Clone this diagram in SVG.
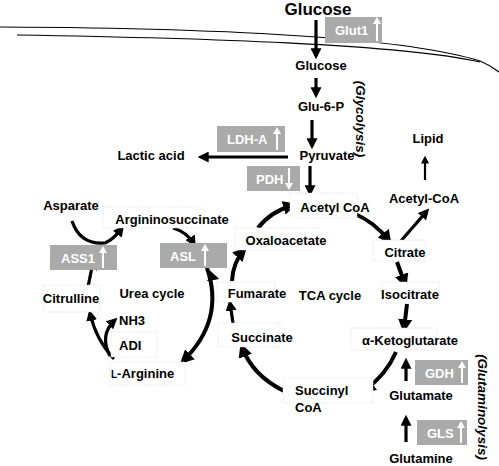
<svg xmlns="http://www.w3.org/2000/svg" width="499" height="466" viewBox="0 0 499 466">
<defs>
<marker id="ah" viewBox="0 0 10 10" refX="7" refY="5" markerWidth="11" markerHeight="11" markerUnits="userSpaceOnUse" orient="auto"><path d="M0,0 L10,5 L0,10 z" fill="#000"/></marker>
<marker id="ahs" viewBox="0 0 10 10" refX="7" refY="5" markerWidth="8" markerHeight="8" markerUnits="userSpaceOnUse" orient="auto"><path d="M0,0 L10,5 L0,10 z" fill="#000"/></marker>
<marker id="ahb" viewBox="0 0 10 10" refX="7" refY="5" markerWidth="14" markerHeight="14" markerUnits="userSpaceOnUse" orient="auto"><path d="M0,0 L10,5 L0,10 z" fill="#000"/></marker>
</defs>
<style>
text{font-family:"Liberation Sans",Arial,sans-serif;font-weight:bold;font-size:13px;fill:#000}
.big{font-size:17px}
.enz{fill:#aaaaaa}
.et{fill:#fff;font-size:13px}
.wa{stroke:#fff;stroke-width:2;fill:none}
.wh{fill:#fff}
.nb{fill:#fff;stroke:#e2e2e2;stroke-width:0.8;stroke-dasharray:1.5,1}
.c{fill:none;stroke:#000;stroke-width:3.2;marker-end:url(#ah)}
.cb{fill:none;stroke:#000;stroke-width:4;marker-end:url(#ahb)}
.cs{fill:none;stroke:#000;stroke-width:2.2;marker-end:url(#ahs)}
.mem{fill:none;stroke:#000;stroke-width:1.2}
.vt{font-style:italic;font-size:13.5px}
</style>
<g id="membrane">
<path class="mem" d="M0,27 C200,28 400,36 480,61 Q490,65 499,72"/>
<path class="mem" d="M17,35 C200,38 400,44 480,62"/>
</g>
<g id="connectors">
<path class="c" d="M316,20 L316,56"/>
<path class="c" d="M316,78 L316,95"/>
<path class="c" d="M312,120 L312,146"/>
<path class="c" d="M288,157 L201,157"/>
<path class="c" d="M310,166 L310,193"/>
<path class="cs" d="M425,180 L425,158"/>
<path class="c" d="M400,242 L427,211"/>
<path class="cb" d="M353,213 Q375,222 389,241"/>
<path class="cb" d="M397,262 L405,284"/>
<path class="cb" d="M407,304 L404,329"/>
<path class="cb" d="M396,352 Q386,375 365,390"/>
<path class="c" d="M406,381 L406,361"/>
<path class="c" d="M406,442 L406,418"/>
<path class="cb" d="M284,391 Q252,375 242,347"/>
<path class="c" d="M233,323 L230,303"/>
<path class="cb" d="M232,281 Q233,262 244,250"/>
<path class="cb" d="M258,228 Q270,212 293,205"/>
<path class="c" d="M173,228 Q187,232 194,244"/>
<path class="c" d="M207,268 Q209,276 216,278"/>
<path class="cb" d="M207,268 Q225,320 183,361"/>
<path class="c" d="M88,287 L93,262"/>
<path class="c" d="M72,221 Q80,245 105,243 Q113,240 122,228"/>
<path class="c" d="M114,359 Q96,340 90,313"/>
<path class="c" d="M110,356 Q99,335 115,320"/>
</g>
<g id="glucose-out"><text class="big" x="318" y="15" text-anchor="middle">Glucose</text></g>
<g id="glut1"><rect class="enz" x="325" y="17" width="57" height="26"/><text class="et" x="335" y="35">Glut1</text><path class="wa" d="M377,41 L377,23"/><path class="wh" d="M373,24 L377,17 L381,24 z"/></g>
<g id="glucose-in"><text x="321" y="70" text-anchor="middle">Glucose</text></g>
<g id="glu6p"><text x="321" y="111" text-anchor="middle">Glu-6-P</text></g>
<g id="glycolysis"><text class="vt" transform="translate(356,119) rotate(90)" text-anchor="middle">(Glycolysis)</text></g>
<g id="pyruvate"><text x="327" y="160" text-anchor="middle">Pyruvate</text></g>
<g id="ldha"><rect class="enz" x="217" y="126" width="68" height="26"/><text class="et" x="227" y="144">LDH-A</text><path class="wa" d="M277,150 L277,133"/><path class="wh" d="M273,134 L277,127 L281,134 z"/></g>
<g id="lactic"><text x="151" y="160" text-anchor="middle">Lactic acid</text></g>
<g id="pdh"><rect class="enz" x="247" y="166" width="53" height="25"/><text class="et" x="256" y="184">PDH</text><path class="wa" d="M289,168 L289,184"/><path class="wh" d="M285,183 L289,190 L293,183 z"/></g>
<g id="acetylcoa"><rect class="nb" x="290" y="193" width="67" height="25"/><text x="335" y="212" text-anchor="middle">Acetyl CoA</text></g>
<g id="lipid"><text x="428" y="143" text-anchor="middle">Lipid</text></g>
<g id="acetyl-coa2"><text x="424" y="203" text-anchor="middle">Acetyl-CoA</text></g>
<g id="citrate"><rect class="nb" x="373" y="240" width="52" height="21"/><text x="405" y="257" text-anchor="middle">Citrate</text></g>
<g id="isocitrate"><rect class="nb" x="382" y="282" width="57" height="21"/><text x="410" y="299" text-anchor="middle">Isocitrate</text></g>
<g id="akg"><rect class="nb" x="351" y="328" width="86" height="22"/><text x="410" y="345" text-anchor="middle">α-Ketoglutarate</text></g>
<g id="gdh"><rect class="enz" x="415" y="360" width="53" height="25"/><text class="et" x="425" y="378">GDH</text><path class="wa" d="M462,383 L462,367"/><path class="wh" d="M458,368 L462,361 L466,368 z"/></g>
<g id="glutamate"><text x="421" y="400" text-anchor="middle">Glutamate</text></g>
<g id="gls"><rect class="enz" x="417" y="420" width="50" height="25"/><text class="et" x="427" y="438">GLS</text><path class="wa" d="M461,443 L461,427"/><path class="wh" d="M457,428 L461,421 L465,428 z"/></g>
<g id="glutamine"><text x="421" y="463" text-anchor="middle">Glutamine</text></g>
<g id="glutaminolysis"><text class="vt" transform="translate(478,407) rotate(90)" text-anchor="middle">(Glutaminolysis)</text></g>
<g id="succinylcoa"><rect class="nb" x="283" y="378" width="90" height="25"/><text x="295" y="395">Succinyl</text><text x="295" y="412">CoA</text></g>
<g id="tca"><text x="330" y="300" text-anchor="middle">TCA cycle</text></g>
<g id="oxaloacetate"><rect class="nb" x="235" y="228" width="83" height="22"/><text x="286" y="245" text-anchor="middle">Oxaloacetate</text></g>
<g id="fumarate"><rect class="nb" x="217" y="282" width="58" height="20"/><text x="257" y="298" text-anchor="middle">Fumarate</text></g>
<g id="succinate"><rect class="nb" x="218" y="323" width="62" height="24"/><text x="262" y="342" text-anchor="middle">Succinate</text></g>
<g id="asl"><rect class="enz" x="160" y="243" width="67" height="25"/><text class="et" x="170" y="261">ASL</text><path class="wa" d="M205,266 L205,250"/><path class="wh" d="M201,251 L205,244 L209,251 z"/></g>
<g id="ass1"><rect class="enz" x="50" y="245" width="67" height="25"/><text class="et" x="61" y="263">ASS1</text><path class="wa" d="M103,268 L103,252"/><path class="wh" d="M99,253 L103,246 L107,253 z"/></g>
<g id="asparate"><text x="71" y="210" text-anchor="middle">Asparate</text></g>
<g id="argininosuccinate"><rect class="nb" x="103" y="207" width="99" height="21"/><text x="172" y="224" text-anchor="middle">Argininosuccinate</text></g>
<g id="citrulline"><rect class="nb" x="43" y="285" width="57" height="27"/><text x="71" y="303" text-anchor="middle">Citrulline</text></g>
<g id="urea"><text x="152" y="298" text-anchor="middle">Urea cycle</text></g>
<g id="nh3"><text x="119" y="325">NH3</text></g>
<g id="adi"><rect class="nb" x="111" y="332" width="46" height="25"/><text x="119" y="350">ADI</text></g>
<g id="larginine"><rect class="nb" x="110" y="362" width="75" height="23"/><text x="111" y="378"><tspan font-size="10">L</tspan>-Arginine</text></g>
</svg>
